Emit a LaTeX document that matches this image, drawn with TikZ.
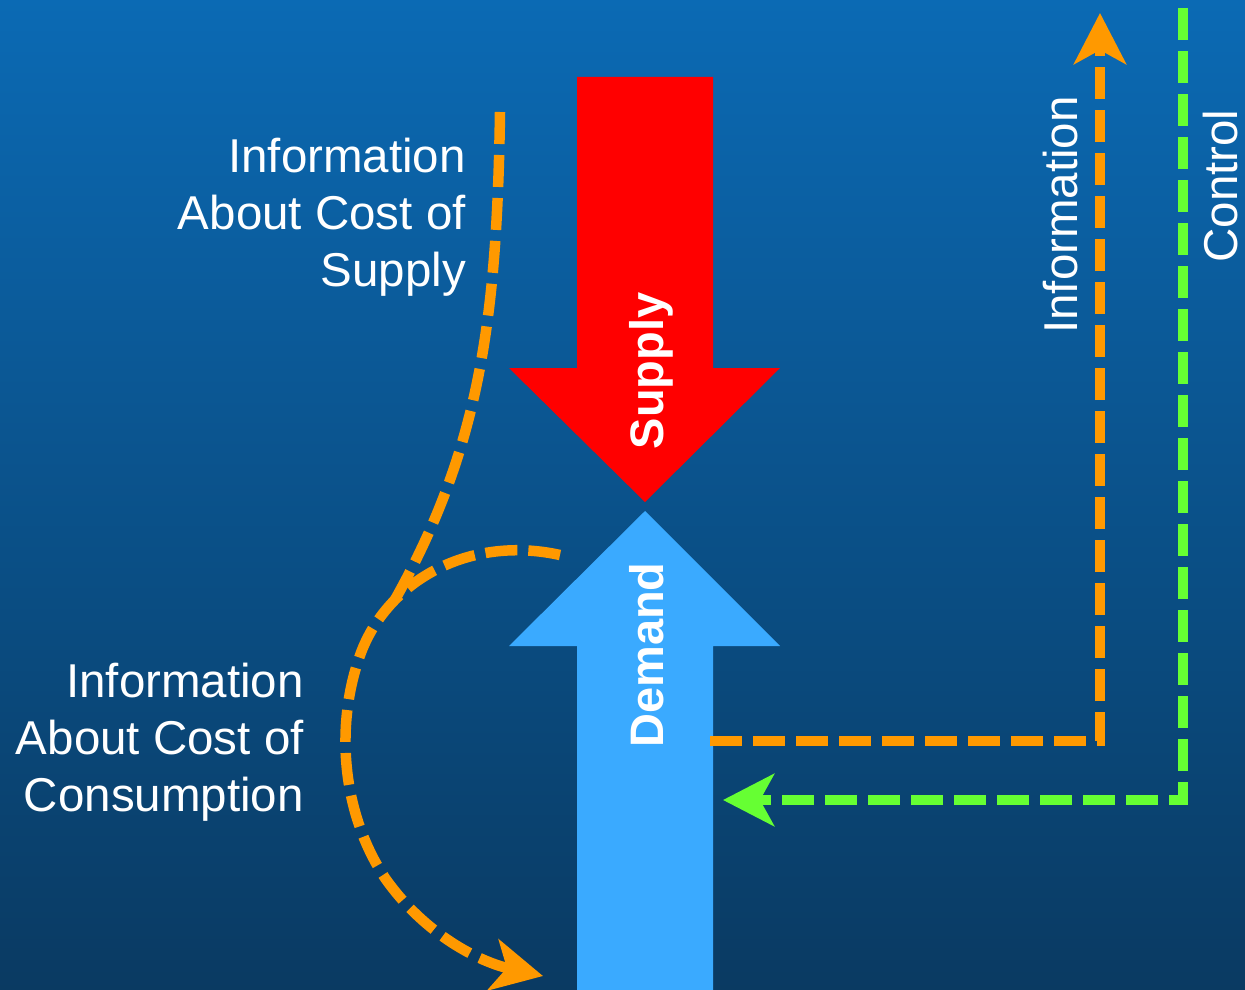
\documentclass[tikz,border=0pt]{standalone}
\usepackage{fontspec}
\setmainfont{Liberation Sans}
\usetikzlibrary{arrows.meta}
\definecolor{bgtop}{RGB}{11,106,180}
\definecolor{bgbot}{RGB}{10,58,98}
\definecolor{supplyred}{RGB}{255,0,0}
\definecolor{demandblue}{RGB}{58,170,255}
\definecolor{infoorange}{RGB}{255,153,0}
\definecolor{ctrlgreen}{RGB}{102,255,51}
\tikzset{
  flowline/.style={line width=10.5pt, dash pattern=on 32pt off 11pt},
  orangeline/.style={flowline, draw=infoorange},
  greenline/.style={flowline, draw=ctrlgreen},
  bigtip/.style={-{Stealth[length=51pt, width=52pt, inset=14pt]}},
  lbl/.style={text=white, inner sep=0pt, font=\fontsize{47.5}{57}\selectfont},
  arrowlbl/.style={text=white, inner sep=0pt, rotate=90, anchor=base, font=\fontsize{47}{56}\selectfont\bfseries},
  sidelbl/.style={text=white, inner sep=0pt, rotate=90, anchor=base, font=\fontsize{47.5}{57}\selectfont},
}
\begin{document}
\begin{tikzpicture}[x=1pt, y=-1pt]
\useasboundingbox (0,0) rectangle (1245,990);
\shade[top color=bgtop, bottom color=bgbot] (0,0) rectangle (1245,990);

% Supply arrow (down)
\fill[supplyred] (577,77) -- (713,77) -- (713,368) -- (780,368) -- (645,502)
  -- (509,368) -- (577,368) -- cycle;
% Demand arrow (up)
\fill[demandblue] (577,990) -- (713,990) -- (713,646) -- (780,646) -- (645,511)
  -- (509,646) -- (577,646) -- cycle;

\node[arrowlbl] (supply) at (663,371) {Supply};
\node[arrowlbl] (demand) at (663,655) {Demand};

% Left labels
\node[lbl, align=right, anchor=north east] (costsupply) at (466,137.5)
  {Information\\About Cost of\\Supply};
\node[lbl, align=right, anchor=north east] (costcons) at (304,662.5)
  {Information\\About Cost of\\Consumption};

% Right labels
\node[sidelbl] (infolbl) at (1077,215) {Information};
\node[sidelbl] (ctrllbl) at (1237,186) {Control};

% coordinates
\coordinate (a0) at (500,112);
\coordinate (aj) at (392,605);
\coordinate (b0) at (560,555);
\coordinate (b1) at (362,650);
\coordinate (b2) at (385,878);
\coordinate (bend) at (543,976);
\coordinate (o0) at (710,741);
\coordinate (o1) at (1100,741);
\coordinate (otip) at (1100,13);
\coordinate (g0) at (1183,8);
\coordinate (g1) at (1183,800);
\coordinate (gtip) at (723,800);

% Curved information lines
\draw[orangeline] (a0) .. controls (497,320) and (480,450) .. (aj);
\draw[orangeline, bigtip] (b0) .. controls (470,535) and (390,580) .. (b1)
  .. controls (335,720) and (340,810) .. (b2)
  .. controls (425,935) and (480,962) .. (bend);

% Right information / control loops
\draw[orangeline, bigtip] (o0) -- (o1) -- (otip);
\draw[greenline, bigtip] (g0) -- (g1) -- (gtip);
\end{tikzpicture}
\end{document}
